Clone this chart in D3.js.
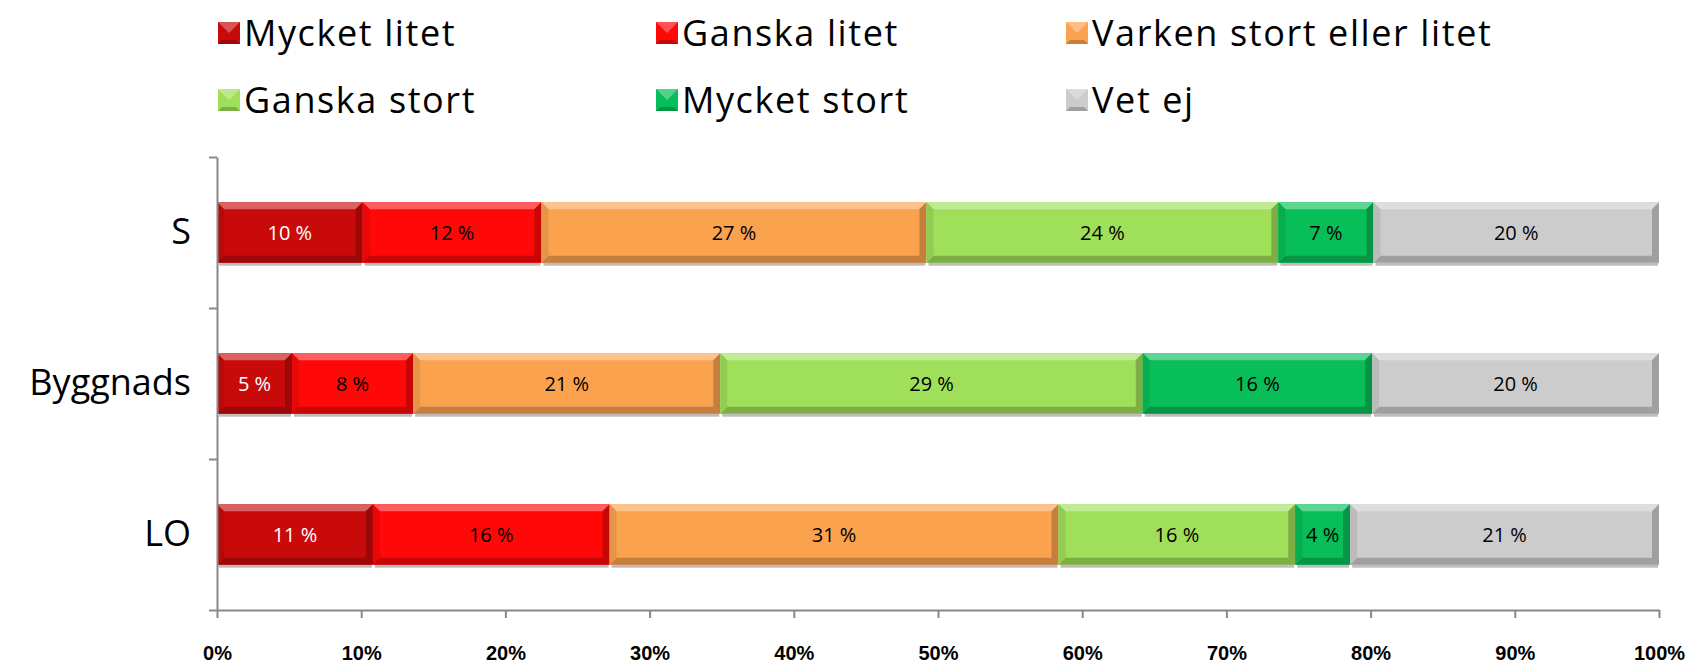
<!DOCTYPE html>
<html><head><meta charset="utf-8">
<script src="https://cdn.jsdelivr.net/npm/d3@7"></script>
<style>body{margin:0;background:#fff}svg{display:block}</style>
</head><body>
<svg id="chart" width="1694" height="663"></svg>
<script>
const categories = ["S", "Byggnads", "LO"];
const seriesNames = ["Mycket litet", "Ganska litet", "Varken stort eller litet", "Ganska stort", "Mycket stort", "Vet ej"];
const seriesColors = ["#C80A0A", "#FF0808", "#FBA24F", "#A0DF5A", "#08BE58", "#CCCCCC"];
const labelColors = ["#ffffff", "#000000", "#000000", "#000000", "#000000", "#000000"];
const mycketLitet = [10.1, 5.2, 10.8];
const ganskaLitet = [12.4, 8.4, 16.4];
const varken = [26.7, 21.3, 31.1];
const ganskaStort = [24.4, 29.3, 16.4];
const mycketStort = [6.6, 15.9, 3.8];
const vetEj = [19.8, 19.9, 21.4];
const xTicks = [0, 10, 20, 30, 40, 50, 60, 70, 80, 90, 100];

const seriesValues = [mycketLitet, ganskaLitet, varken, ganskaStort, mycketStort, vetEj];
const rows = categories.map((c, i) => {
  const r = {cat: c};
  seriesNames.forEach((s, j) => r[s] = seriesValues[j][i]);
  return r;
});
const stacked = d3.stack().keys(seriesNames).offset(d3.stackOffsetExpand)(rows);

const svg = d3.select("#chart");
const x = d3.scaleLinear([0, 1], [217, 1659]);
const y = d3.scaleBand(categories, [157, 610]);
const yb = d3.scaleLinear([0, 3], [157, 610]);
const barH = y.bandwidth() * 0.4;
const barOff = (y.bandwidth() - barH) / 2;

const font = "'Open Sans', 'Liberation Sans', sans-serif";

// shadows
stacked.forEach((s, j) => {
  svg.append("g").selectAll("rect").data(s).join("rect")
    .attr("x", d => x(d[0]) + 2).attr("y", (d, i) => y(categories[i]) + barOff + barH)
    .attr("width", d => Math.max(0, x(d[1]) - x(d[0]) - 3)).attr("height", 3)
    .attr("fill", "#b0aaa6").attr("opacity", 0.8);
});

// bars with bevel
stacked.forEach((s, j) => {
  const base = d3.color(seriesColors[j]);
  const light = d3.interpolateRgb(base, "#ffffff")(0.35);
  const dark = base.darker(0.7);
  const side = base.darker(0.25);
  const g = svg.append("g");
  s.forEach((d, i) => {
    const x0 = x(d[0]), x1 = x(d[1]);
    const y0 = y(categories[i]) + barOff, y1 = y0 + barH;
    const b = Math.min(7, (x1 - x0) / 2);
    g.append("rect").attr("x", x0).attr("y", y0).attr("width", x1 - x0).attr("height", barH).attr("fill", seriesColors[j]);
    g.append("path").attr("d", `M${x0},${y0}L${x1},${y0}L${x1 - b},${y0 + b}L${x0 + b},${y0 + b}Z`).attr("fill", light);
    g.append("path").attr("d", `M${x0},${y1}L${x1},${y1}L${x1 - b},${y1 - b}L${x0 + b},${y1 - b}Z`).attr("fill", dark);
    g.append("path").attr("d", `M${x0},${y0}L${x0 + b},${y0 + b}L${x0 + b},${y1 - b}L${x0},${y1}Z`).attr("fill", side);
    g.append("path").attr("d", `M${x1},${y0}L${x1 - b},${y0 + b}L${x1 - b},${y1 - b}L${x1},${y1}Z`).attr("fill", dark);
    g.append("text").attr("x", (x0 + x1) / 2).attr("y", y0 + barH / 2).attr("dy", "0.36em")
      .attr("text-anchor", "middle").attr("font-family", font).attr("font-size", 20)
      .attr("fill", labelColors[j]).text(Math.round(seriesValues[j][i]) + " %");
  });
});

// y axis lines
const yAxisG = svg.append("g").attr("transform", "translate(217,0)")
  .call(d3.axisLeft(yb).tickValues([0, 1, 2, 3]).tickFormat("").tickSize(8).tickSizeOuter(0));
yAxisG.selectAll("line,path").attr("stroke", "#888").attr("stroke-width", 2);

// category labels
const catG = svg.append("g").attr("transform", "translate(217,0)")
  .call(d3.axisLeft(y).tickSize(0).tickPadding(26));
catG.select(".domain").remove();
catG.selectAll("text").attr("font-family", font).attr("font-size", 36).attr("fill", "#000");

// x axis
const xAxisG = svg.append("g").attr("transform", "translate(0,610)")
  .call(d3.axisBottom(x).tickValues(xTicks.map(v => v / 100)).tickFormat((d, i) => xTicks[i] + "%").tickSize(8).tickSizeOuter(0).tickPadding(28));
xAxisG.selectAll("line,path").attr("stroke", "#888").attr("stroke-width", 2);
xAxisG.selectAll("text").attr("font-family", "'Liberation Sans', sans-serif").attr("font-weight", "bold").attr("font-size", 20).attr("fill", "#000");

// legend
const legX = [218, 656, 1066];
const legY = [33, 100];
seriesNames.forEach((s, j) => {
  const lx = legX[j % 3], ly = legY[Math.floor(j / 3)];
  const g = svg.append("g").attr("transform", `translate(${lx},${ly})`);
  const sz = 22, b = 4;
  const base = d3.color(seriesColors[j]);
  g.append("rect").attr("x", 0).attr("y", -sz / 2).attr("width", sz).attr("height", sz).attr("fill", seriesColors[j]);
  g.append("path").attr("d", `M0,${-sz/2}L${sz},${-sz/2}L${sz/2},0Z`).attr("fill", d3.interpolateRgb(base, "#fff")(0.3));
  g.append("path").attr("d", `M0,${sz/2}L${sz},${sz/2}L${sz-b},${sz/2-b}L${b},${sz/2-b}Z`).attr("fill", base.darker(0.7));
  g.append("text").attr("x", sz + 4).attr("y", 0).attr("dy", "0.35em")
    .attr("font-family", font).attr("font-size", 36).attr("letter-spacing", 1.6).attr("fill", "#000").text(s);
});
</script>
</body></html>
